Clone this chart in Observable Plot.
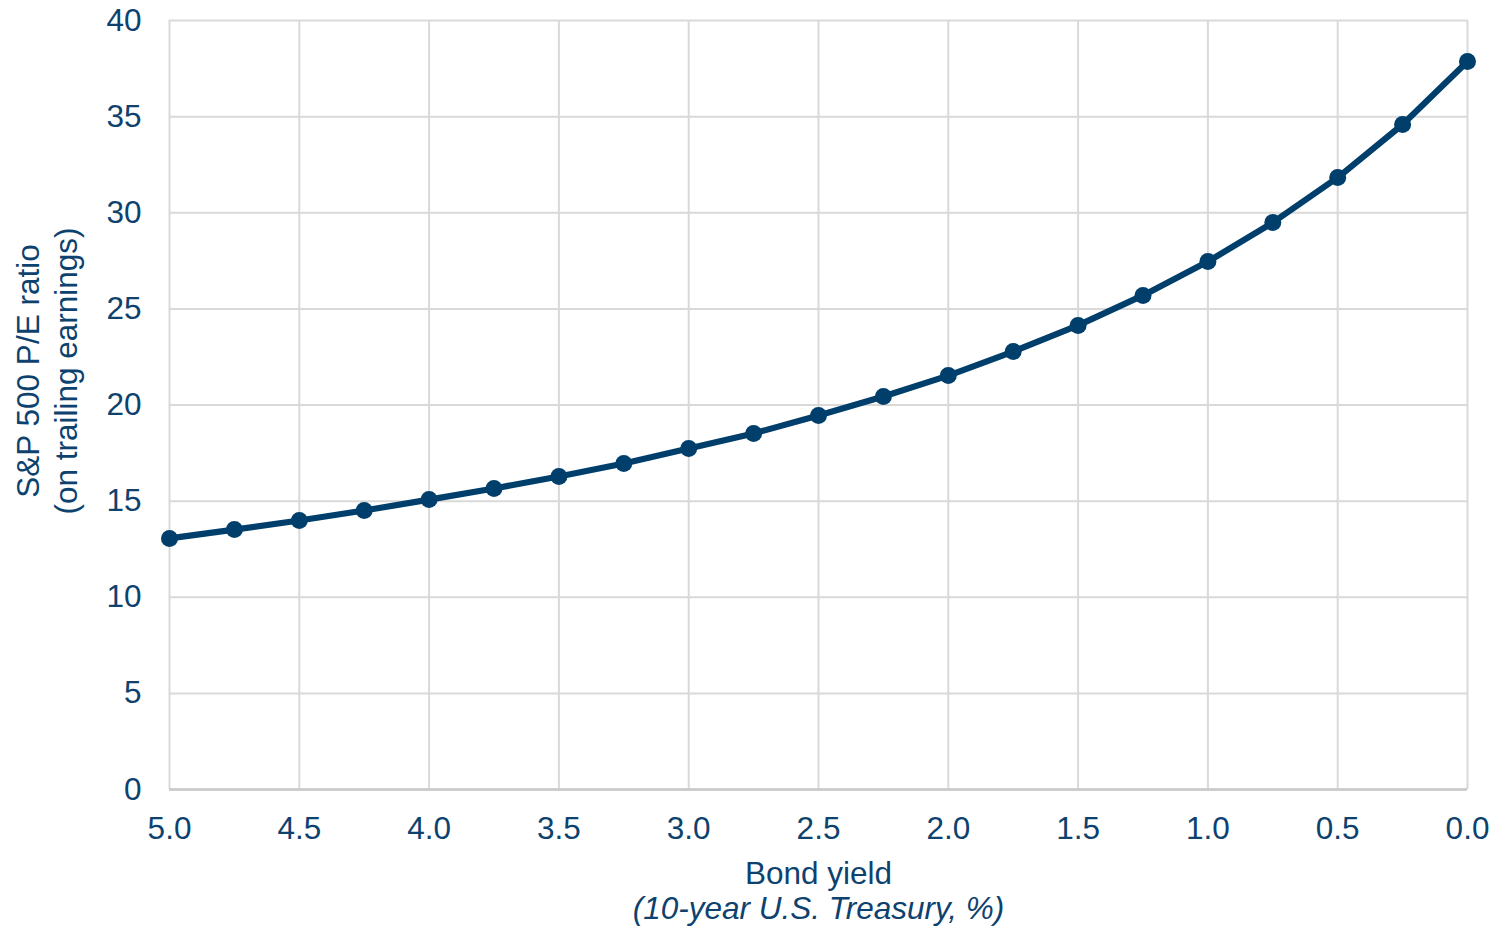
<!DOCTYPE html>
<html>
<head>
<meta charset="utf-8">
<script src="https://cdn.jsdelivr.net/npm/d3@7"></script>
<script src="https://cdn.jsdelivr.net/npm/@observablehq/plot@0.6"></script>
<style>
  html, body { margin: 0; padding: 0; background: #fff; }
  svg { display: block; }
</style>
</head>
<body>
<div id="chart"></div>
<script>
const yields = [5.0, 4.75, 4.5, 4.25, 4.0, 3.75, 3.5, 3.25, 3.0, 2.75, 2.5, 2.25, 2.0, 1.75, 1.5, 1.25, 1.0, 0.75, 0.5, 0.25, 0.0];
const peRatios = [13.06, 13.52, 13.99, 14.51, 15.08, 15.66, 16.28, 16.96, 17.74, 18.52, 19.45, 20.44, 21.53, 22.78, 24.14, 25.70, 27.46, 29.49, 31.83, 34.59, 37.87];
const xTicks = [5.0, 4.5, 4.0, 3.5, 3.0, 2.5, 2.0, 1.5, 1.0, 0.5, 0.0];
const yTicks = [0, 5, 10, 15, 20, 25, 30, 35, 40];
const xLabel1 = "Bond yield";
const xLabel2 = "(10-year U.S. Treasury, %)";
const yLabel1 = "S&P 500 P/E ratio";
const yLabel2 = "(on trailing earnings)";

const data = yields.map((x, i) => ({x, y: peRatios[i]}));
const navy = "#003F6B";
const textColor = "#0E426E";
const grid = "#D9D9D9";
const fs = 31.5;

const chart = Plot.plot({
  width: 1493,
  height: 926,
  marginLeft: 169,
  marginRight: 26,
  marginTop: 20,
  marginBottom: 137,
  style: {fontFamily: "Liberation Sans, Arial, sans-serif", fontSize: fs + "px", color: textColor, background: "#fff"},
  x: {domain: [5, 0], ticks: xTicks, tickFormat: d => d.toFixed(1), label: null},
  y: {domain: [0, 40], ticks: yTicks, label: null},
  marks: [
    Plot.gridX(xTicks, {stroke: grid, strokeOpacity: 1, strokeWidth: 2}),
    Plot.gridY(yTicks, {stroke: grid, strokeOpacity: 1, strokeWidth: 2}),
    Plot.ruleY([0], {stroke: "#C8C8C8", strokeWidth: 2.5}),
    Plot.axisX(xTicks, {tickSize: 0, tickPadding: 27, tickFormat: d => d.toFixed(1), fill: textColor, fontSize: fs, label: null}),
    Plot.axisY(yTicks, {tickSize: 0, tickPadding: 28, fill: textColor, fontSize: fs, label: null}),
    Plot.line(data, {x: "x", y: "y", stroke: navy, strokeWidth: 6.2}),
    Plot.dot(data, {x: "x", y: "y", fill: navy, r: 8.5}),
    Plot.text([xLabel1], {frameAnchor: "bottom", lineAnchor: "middle", dy: 84, fill: textColor, fontSize: fs}),
    Plot.text([xLabel2], {frameAnchor: "bottom", lineAnchor: "middle", dy: 119, fill: textColor, fontSize: fs, fontStyle: "italic"}),
    Plot.text([yLabel1], {frameAnchor: "left", textAnchor: "middle", lineAnchor: "middle", dx: -141, dy: -34, rotate: -90, fill: textColor, fontSize: fs}),
    Plot.text([yLabel2], {frameAnchor: "left", textAnchor: "middle", lineAnchor: "middle", dx: -103, dy: -34, rotate: -90, fill: textColor, fontSize: fs})
  ]
});
document.getElementById("chart").appendChild(chart);
</script>
</body>
</html>
